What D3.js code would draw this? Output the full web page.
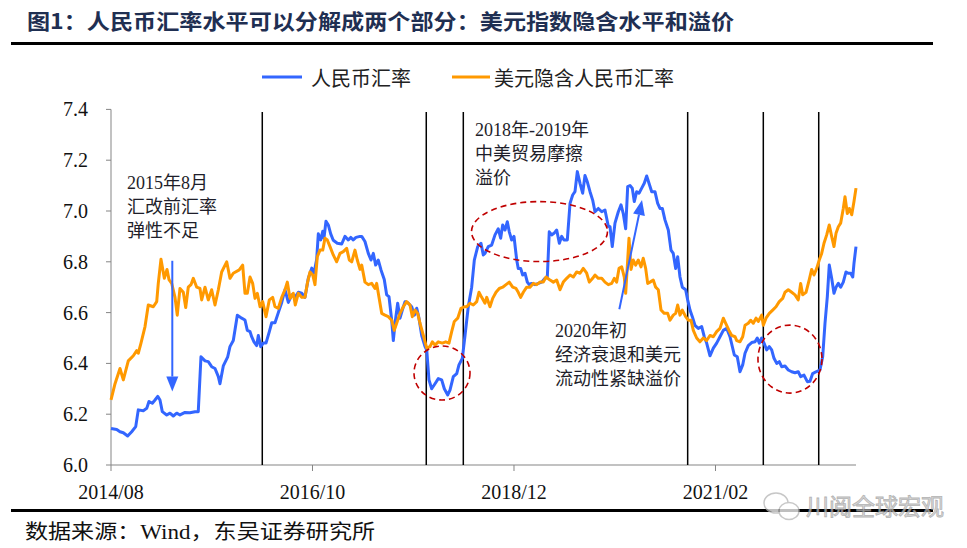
<!DOCTYPE html>
<html><head><meta charset="utf-8">
<script src="https://cdn.jsdelivr.net/npm/d3@7/dist/d3.min.js"></script>
<style>
body{margin:0;background:#fff;}
svg{display:block;}
</style></head>
<body>
<svg id="chart" width="967" height="548"></svg>
<script>
// ---- data (months since 2014/08, value) ----
const cnyT = [0,0.74,1.16,1.59,2.15,2.67,3.19,3.52,4.17,4.61,4.9,5.33,5.68,6.03,6.32,6.62,7.19,7.61,8.04,8.48,8.9,9.55,10.19,10.84,11.26,11.61,12.13,12.55,12.99,13.42,13.85,14.06,14.49,15.06,15.35,15.78,16.3,16.86,17.29,17.59,17.94,18.15,18.45,18.8,19.01,19.32,19.65,20,20.43,20.74,21.16,21.59,22.03,22.45,22.88,23.32,23.74,24.17,24.61,25.03,25.46,25.9,26.19,26.54,26.75,27.06,27.32,27.48,27.74,28.04,28.35,28.68,29.2,29.77,30.19,30.62,30.93,31.26,31.61,32.13,32.35,32.77,33.2,33.55,33.85,34.15,34.49,34.84,35.26,35.57,35.87,36.22,36.43,36.65,36.99,37.29,37.59,37.94,38.36,38.8,39.14,39.45,39.74,40.09,40.52,40.74,41.03,41.38,41.81,42.23,42.67,43.01,43.45,43.74,44.17,44.61,44.9,45.33,45.68,46.1,46.54,46.88,47.32,47.74,48.04,48.26,48.68,49.12,49.55,49.97,50.28,50.54,50.84,51.14,51.39,51.7,52,52.35,52.55,52.86,53.12,53.42,53.72,53.97,54.28,54.71,55.14,55.57,56,56.3,56.55,56.86,57.16,57.51,57.85,58.15,58.45,58.88,59.23,59.57,59.87,60.17,60.52,60.86,61.16,61.46,61.81,62.15,62.45,62.88,63.32,63.74,64.17,64.39,64.68,65.03,65.46,65.81,66.1,66.41,66.67,66.97,67.26,67.52,67.83,68.13,68.48,68.81,69.12,69.42,69.77,70.19,70.54,70.84,71.14,71.48,71.91,72.26,72.55,72.86,73.12,73.42,73.72,74.15,74.41,74.71,75.01,75.35,75.78,76.22,76.55,76.86,77.29,77.72,78.15,78.58,79.01,79.45,79.87,80.43,80.81,81.16,81.51,81.81,82.23,82.67,83.1,83.39,83.65,83.96,84.26,84.61,84.94,85.25,85.55,85.9,86.23,86.54,86.97,87.39,87.83,88.26,88.68,88.99,89.42,89.85,90.19,90.54,90.97,91.48,91.83,92.13,92.43,92.68,92.99,93.29,93.55,93.85,94.15,94.49,94.84,95.14,95.45,95.71,95.87,96.13];
const cnyV = [6.144,6.14,6.131,6.127,6.114,6.131,6.151,6.217,6.214,6.223,6.25,6.243,6.256,6.27,6.256,6.21,6.197,6.204,6.193,6.204,6.197,6.207,6.206,6.21,6.21,6.426,6.41,6.407,6.387,6.38,6.348,6.32,6.39,6.426,6.466,6.49,6.59,6.578,6.571,6.53,6.525,6.505,6.485,6.47,6.51,6.466,6.48,6.48,6.525,6.56,6.56,6.6,6.64,6.69,6.64,6.67,6.66,6.68,6.676,6.66,6.735,6.775,6.755,6.81,6.91,6.886,6.92,6.893,6.96,6.945,6.91,6.885,6.873,6.87,6.9,6.886,6.896,6.886,6.896,6.9,6.9,6.88,6.833,6.807,6.833,6.787,6.807,6.768,6.73,6.67,6.663,6.57,6.49,6.558,6.637,6.578,6.61,6.643,6.637,6.623,6.59,6.617,6.578,6.51,6.466,6.453,6.335,6.3,6.32,6.34,6.335,6.3,6.276,6.295,6.348,6.36,6.394,6.42,6.51,6.623,6.7,6.807,6.86,6.873,6.827,6.833,6.86,6.866,6.906,6.93,6.893,6.945,6.925,6.958,6.918,6.886,6.9,6.807,6.774,6.774,6.748,6.755,6.72,6.71,6.715,6.71,6.715,6.72,6.735,6.74,6.918,6.906,6.912,6.925,6.873,6.9,6.886,6.886,7.03,7.063,7.076,7.155,7.109,7.07,7.14,7.115,7.076,7.043,6.997,7.01,6.997,7.004,6.94,6.938,6.86,6.952,6.997,7.024,6.99,6.93,7.096,7.1,7.09,7.037,7.076,7.07,7.09,7.109,7.138,7.109,7.076,7.076,7.03,7.01,7.01,6.965,6.925,6.846,6.833,6.774,6.82,6.74,6.7,6.69,6.65,6.61,6.584,6.55,6.538,6.545,6.505,6.48,6.43,6.46,6.48,6.505,6.53,6.538,6.505,6.433,6.426,6.367,6.394,6.44,6.47,6.482,6.485,6.5,6.48,6.5,6.48,6.453,6.466,6.453,6.42,6.4,6.407,6.387,6.39,6.374,6.367,6.363,6.367,6.348,6.354,6.328,6.33,6.36,6.367,6.374,6.426,6.558,6.663,6.787,6.735,6.676,6.7,6.715,6.7,6.72,6.76,6.755,6.755,6.74,6.794,6.86];
const usdT = [0,0.52,1.16,1.59,2.23,2.88,3.32,3.52,3.87,4.39,4.81,5.46,5.9,6.1,6.45,6.88,7.23,7.48,7.83,8.26,8.55,8.9,9.33,9.64,9.97,10.32,10.62,11.06,11.48,11.7,12.13,12.55,12.99,13.42,13.85,14.28,14.93,15.35,15.78,16.55,16.99,17.29,17.59,17.94,18.28,18.58,18.88,19.23,19.57,20,20.43,20.86,21.16,21.59,22.03,22.45,22.75,23.1,23.52,23.78,24.17,24.61,25.03,25.33,25.68,26.03,26.32,26.62,26.97,27.32,27.61,27.91,28.26,28.68,29.12,29.55,29.97,30.41,30.75,31.06,31.48,31.78,32.13,32.35,32.77,33.2,33.64,34.06,34.28,34.58,34.93,35.35,35.78,36.22,36.55,36.86,37.29,37.72,38.15,38.58,38.88,39.23,39.57,39.87,40.3,40.74,41.16,41.46,41.81,42.23,42.75,43.19,43.61,43.96,44.3,44.74,45.16,45.59,45.9,46.32,46.75,47.19,47.48,47.83,48.26,48.48,48.9,49.25,49.68,50.1,50.54,50.97,51.39,51.83,52.26,52.55,52.86,53.2,53.64,54.06,54.49,54.93,55.35,55.78,56.13,56.65,57.08,57.51,57.94,58.36,58.8,59.23,59.65,60.09,60.52,60.94,61.38,61.72,62.15,62.45,62.88,63.32,63.74,64.17,64.61,64.94,65.25,65.55,65.9,66.23,66.41,66.67,66.84,67.1,67.39,67.7,68.04,68.39,68.68,68.99,69.25,69.55,69.97,70.28,70.62,70.97,71.39,71.83,72.13,72.55,72.86,73.12,73.42,73.72,74.15,74.49,74.84,75.14,75.57,75.99,76.43,76.86,77.29,77.72,78.15,78.58,79.01,79.32,79.74,80.09,80.52,80.74,81.16,81.51,81.81,82.23,82.54,82.88,83.23,83.52,83.96,84.17,84.52,84.94,85.38,85.81,86.23,86.67,86.97,87.39,87.83,88.26,88.68,88.99,89.25,89.68,90.1,90.41,90.71,91.06,91.39,91.7,92,92.35,92.68,92.99,93.29,93.55,93.85,94.15,94.49,94.71,95.01,95.27,95.58,95.87,96.13];
const usdV = [6.256,6.32,6.38,6.335,6.41,6.43,6.45,6.44,6.48,6.545,6.63,6.623,6.643,6.715,6.81,6.735,6.77,6.73,6.715,6.66,6.59,6.695,6.68,6.62,6.7,6.71,6.735,6.7,6.695,6.65,6.7,6.65,6.69,6.63,6.69,6.76,6.8,6.735,6.755,6.768,6.787,6.676,6.676,6.74,6.715,6.656,6.676,6.623,6.643,6.584,6.65,6.66,6.623,6.617,6.66,6.69,6.72,6.656,6.676,6.63,6.676,6.66,6.66,6.715,6.76,6.748,6.71,6.82,6.846,6.846,6.893,6.886,6.86,6.827,6.8,6.833,6.84,6.853,6.807,6.8,6.846,6.807,6.77,6.787,6.72,6.71,6.715,6.695,6.715,6.66,6.597,6.59,6.584,6.57,6.53,6.558,6.597,6.623,6.643,6.63,6.584,6.61,6.597,6.558,6.51,6.46,6.466,6.485,6.472,6.485,6.48,6.485,6.48,6.525,6.565,6.578,6.617,6.623,6.623,6.637,6.63,6.643,6.68,6.66,6.637,6.66,6.623,6.656,6.68,6.695,6.7,6.71,6.72,6.7,6.695,6.68,6.66,6.68,6.7,6.7,6.715,6.71,6.72,6.72,6.74,6.728,6.72,6.728,6.69,6.72,6.735,6.748,6.74,6.76,6.755,6.774,6.755,6.72,6.735,6.748,6.735,6.735,6.72,6.71,6.715,6.735,6.72,6.774,6.78,6.74,6.676,6.807,6.893,6.77,6.807,6.787,6.807,6.78,6.814,6.774,6.715,6.72,6.728,6.7,6.69,6.61,6.597,6.597,6.57,6.59,6.597,6.63,6.59,6.61,6.584,6.57,6.57,6.53,6.5,6.485,6.5,6.49,6.51,6.505,6.525,6.538,6.578,6.558,6.53,6.51,6.505,6.49,6.485,6.505,6.55,6.558,6.57,6.558,6.578,6.565,6.59,6.55,6.578,6.597,6.61,6.623,6.643,6.656,6.68,6.69,6.68,6.67,6.65,6.715,6.67,6.68,6.73,6.77,6.748,6.774,6.807,6.833,6.873,6.906,6.945,6.9,6.86,6.912,6.938,6.952,7.01,7.056,6.99,7.01,6.985,7.037,7.09];
const seriesNames = ["人民币汇率", "美元隐含人民币汇率"];
const xTickMonths = [0, 26, 52, 78];
const xTickLabels = ["2014/08", "2016/10", "2018/12", "2021/02"];
const yTickValues = [6.0, 6.2, 6.4, 6.6, 6.8, 7.0, 7.2, 7.4];
const eventMonths = [19.52, 40.68, 45.46, 74.41, 84.17, 91.32];
const titleText = "图1：人民币汇率水平可以分解成两个部分：美元指数隐含水平和溢价";
const sourceText = "数据来源：Wind，东吴证券研究所";
const annoTexts = [
  ["2015年8月", "汇改前汇率", "弹性不足"],
  ["2018年-2019年", "中美贸易摩擦", "溢价"],
  ["2020年初", "经济衰退和美元", "流动性紧缺溢价"]
];
// annotation anchors in data units [month, value]
const annoAnchors = [[2.06, 7.11], [46.97, 7.319], [57.29, 6.528]];
const arrows = [[[7.91, 6.804], [7.91, 6.289]], [[65.59, 6.613], [68.52, 7.043]]];
const ellipses = [[55.29, 6.919, 68, 30], [42.71, 6.362, 28, 27], [87.61, 6.417, 32, 34]];

// ---- chart ----
const svg = d3.select("#chart");
const BLUE = "#3366FF", ORANGE = "#FF9900";
const x = d3.scaleLinear().domain([0, 96.13]).range([111, 856]);
const y = d3.scaleLinear().domain([6.0, 7.4]).range([465, 109.4]);
const CJK = "'Noto Sans CJK SC', sans-serif";
const SERIF = "'Liberation Serif', 'Noto Sans CJK SC', serif";

// title
svg.append("text").attr("x", 27).attr("y", 29)
  .attr("font-family", CJK).attr("font-weight", "bold").attr("font-size", 21)
  .attr("fill", "#1f2f52").attr("textLength", 707).attr("lengthAdjust", "spacingAndGlyphs")
  .text(titleText);
svg.append("rect").attr("x", 11).attr("y", 42).attr("width", 922).attr("height", 3).attr("fill", "#000");

// legend
const leg = [[262, 302, 311, BLUE], [452, 490, 494, ORANGE]];
leg.forEach((l, i) => {
  svg.append("line").attr("x1", l[0]).attr("x2", l[1]).attr("y1", 77).attr("y2", 77)
    .attr("stroke", l[3]).attr("stroke-width", 3);
  svg.append("text").attr("x", l[2]).attr("y", 77).attr("dominant-baseline", "central")
    .attr("font-family", CJK).attr("font-size", 20).attr("fill", "#222").text(seriesNames[i]);
});

// axes
const axisColor = "#858585";
svg.append("line").attr("x1", 111).attr("x2", 111).attr("y1", y(7.4)).attr("y2", y(6.0))
  .attr("stroke", axisColor).attr("stroke-width", 1);
yTickValues.forEach(v => {
  svg.append("line").attr("x1", 106).attr("x2", 111).attr("y1", y(v)).attr("y2", y(v))
    .attr("stroke", axisColor);
  svg.append("text").attr("x", 88).attr("y", y(v)).attr("text-anchor", "end")
    .attr("dominant-baseline", "central").attr("font-family", SERIF).attr("font-size", 20)
    .attr("fill", "#111").text(d3.format(".1f")(v));
});
svg.append("line").attr("x1", 111).attr("x2", 856).attr("y1", y(6.0)).attr("y2", y(6.0))
  .attr("stroke", axisColor).attr("stroke-width", 1.2);
xTickMonths.forEach((m, i) => {
  svg.append("line").attr("x1", x(m)).attr("x2", x(m)).attr("y1", y(6.0)).attr("y2", y(6.0) + 6)
    .attr("stroke", axisColor);
  svg.append("text").attr("x", x(m)).attr("y", 499).attr("text-anchor", "middle")
    .attr("font-family", SERIF).attr("font-size", 20).attr("fill", "#111").text(xTickLabels[i]);
});

// event lines
eventMonths.forEach(m => {
  svg.append("line").attr("x1", x(m)).attr("x2", x(m)).attr("y1", 112).attr("y2", y(6.0))
    .attr("stroke", "#000").attr("stroke-width", 1.5);
});

// series
const line = d3.line().x(d => x(d[0])).y(d => y(d[1]));
svg.append("path").datum(d3.zip(cnyT, cnyV)).attr("d", line)
  .attr("fill", "none").attr("stroke", BLUE).attr("stroke-width", 3).attr("stroke-linejoin", "round");
svg.append("path").datum(d3.zip(usdT, usdV)).attr("d", line)
  .attr("fill", "none").attr("stroke", ORANGE).attr("stroke-width", 3).attr("stroke-linejoin", "round");

// ellipses
ellipses.forEach(e => {
  svg.append("ellipse").attr("cx", x(e[0])).attr("cy", y(e[1])).attr("rx", e[2]).attr("ry", e[3])
    .attr("fill", "none").attr("stroke", "#c00000").attr("stroke-width", 1.6)
    .attr("stroke-dasharray", "6,4");
});

// arrows
arrows.forEach(a => {
  const x1 = x(a[0][0]), y1 = y(a[0][1]), x2 = x(a[1][0]), y2 = y(a[1][1]);
  const ang = Math.atan2(y2 - y1, x2 - x1);
  const L = 15, W = 6;
  const bx = x2 - L * Math.cos(ang), by = y2 - L * Math.sin(ang);
  svg.append("line").attr("x1", x1).attr("y1", y1).attr("x2", bx).attr("y2", by)
    .attr("stroke", BLUE).attr("stroke-width", 2);
  const p = [[x2, y2],
    [bx + W * Math.sin(ang), by - W * Math.cos(ang)],
    [bx - W * Math.sin(ang), by + W * Math.cos(ang)]];
  svg.append("polygon").attr("points", p.map(q => q.join(",")).join(" ")).attr("fill", BLUE);
});

// annotations
annoTexts.forEach((lines, i) => {
  const ax = x(annoAnchors[i][0]), ay = y(annoAnchors[i][1]);
  lines.forEach((t, j) => {
    svg.append("text").attr("x", ax).attr("y", ay + j * 24).attr("dominant-baseline", "central")
      .attr("font-family", SERIF).attr("font-size", 18).attr("fill", "#1e1e2a").text(t);
  });
});

// bottom rule and source
svg.append("rect").attr("x", 11).attr("y", 509).attr("width", 922).attr("height", 3).attr("fill", "#000");
svg.append("text").attr("x", 25).attr("y", 539)
  .attr("font-family", "'Liberation Serif', 'Noto Sans CJK SC', serif").attr("font-size", 20)
  .attr("fill", "#111").attr("textLength", 350).attr("lengthAdjust", "spacingAndGlyphs").text(sourceText);

// watermark
const wm = svg.append("g").attr("opacity", 0.75);
wm.append("ellipse").attr("cx", 776).attr("cy", 503).attr("rx", 12).attr("ry", 10)
  .attr("fill", "#fff").attr("stroke", "#b5b5b5").attr("stroke-width", 1.5);
wm.append("ellipse").attr("cx", 789).attr("cy", 511).attr("rx", 10).attr("ry", 8.5)
  .attr("fill", "#fff").attr("stroke", "#b5b5b5").attr("stroke-width", 1.5);
wm.append("text").attr("x", 806).attr("y", 505).attr("dominant-baseline", "central")
  .attr("font-family", CJK).attr("font-size", 23).attr("fill", "#cfcfcf")
  .attr("stroke", "#9a9a9a").attr("stroke-width", 0.8).text("川阅全球宏观");
</script>
</body></html>
